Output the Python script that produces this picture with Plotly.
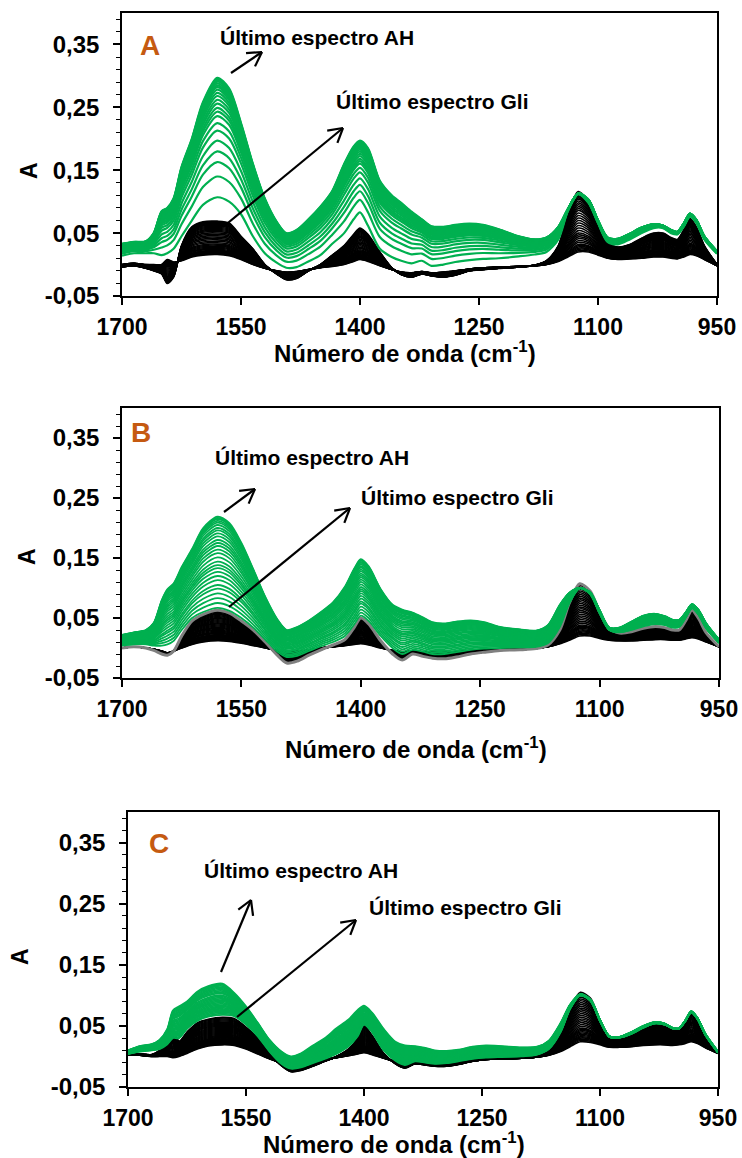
import math
import plotly.graph_objects as go

W, H = 742, 1158

# ---------------- data ----------------
wavenumber = [1700, 1685, 1670, 1660, 1650, 1643, 1635, 1625, 1612, 1598,
              1580, 1565, 1550, 1535, 1520, 1505, 1493, 1480, 1465, 1450,
              1435, 1420, 1408, 1400, 1390, 1375, 1360, 1348, 1335, 1322,
              1310, 1295, 1280, 1262, 1245, 1225, 1200, 1180, 1165, 1150,
              1138, 1125, 1112, 1100, 1088, 1075, 1060, 1045, 1030, 1018,
              1008, 1000, 992, 984, 976, 966, 950]

x_ticks = [1700, 1550, 1400, 1250, 1100, 950]
y_ticks = [-0.05, 0.05, 0.15, 0.25, 0.35]
y_tick_text = ["-0,05", "0,05", "0,15", "0,25", "0,35"]

# Panel A
a_black_first = [0.000, 0.002, 0.000, 0.000, 0.000, 0.008, 0.004, 0.006, 0.012, 0.015,
                 0.016, 0.014, 0.008, 0.000, -0.006, -0.010, -0.012, -0.011, -0.008, -0.005,
                 -0.003, 0.000, 0.005, 0.008, 0.005, -0.002, -0.008, -0.012, -0.013, -0.011,
                 -0.013, -0.012, -0.010, -0.007, -0.005, -0.004, -0.003, -0.002, 0.000, 0.005,
                 0.012, 0.020, 0.020, 0.015, 0.010, 0.008, 0.009, 0.010, 0.012, 0.012,
                 0.010, 0.009, 0.012, 0.016, 0.014, 0.008, -0.002]
a_black_last = [-0.004, -0.002, -0.006, -0.010, -0.015, -0.030, -0.020, 0.030, 0.060, 0.068,
                0.069, 0.066, 0.045, 0.025, 0.000, -0.015, -0.024, -0.022, -0.010, 0.000,
                0.015, 0.030, 0.048, 0.058, 0.048, 0.020, -0.005, -0.016, -0.020, -0.015,
                -0.018, -0.020, -0.017, -0.010, -0.008, -0.006, -0.004, -0.001, 0.006, 0.030,
                0.080, 0.116, 0.100, 0.065, 0.035, 0.028, 0.032, 0.042, 0.050, 0.050,
                0.043, 0.040, 0.055, 0.073, 0.060, 0.030, 0.000]
a_green_first = [0.014, 0.018, 0.018, 0.018, 0.015, 0.018, 0.025, 0.045, 0.070, 0.095,
                 0.107, 0.100, 0.080, 0.045, 0.018, 0.003, -0.005, -0.004, 0.005, 0.015,
                 0.033, 0.050, 0.072, 0.083, 0.062, 0.025, 0.012, 0.006, 0.002, 0.006,
                 -0.002, 0.000, 0.004, 0.007, 0.009, 0.010, 0.013, 0.016, 0.020, 0.040,
                 0.085, 0.112, 0.098, 0.066, 0.036, 0.032, 0.040, 0.050, 0.058, 0.058,
                 0.050, 0.048, 0.060, 0.076, 0.066, 0.040, 0.017]
a_green_last = [0.033, 0.036, 0.037, 0.050, 0.085, 0.090, 0.105, 0.155, 0.200, 0.258,
                0.297, 0.280, 0.225, 0.160, 0.105, 0.068, 0.050, 0.055, 0.072, 0.092,
                0.117, 0.160, 0.188, 0.197, 0.185, 0.133, 0.110, 0.098, 0.084, 0.072,
                0.061, 0.060, 0.063, 0.065, 0.063, 0.056, 0.045, 0.040, 0.043, 0.060,
                0.088, 0.113, 0.103, 0.070, 0.043, 0.041, 0.049, 0.059, 0.064, 0.062,
                0.055, 0.052, 0.065, 0.081, 0.071, 0.045, 0.021]
# height of every black spectrum at 1125 cm-1 / every green spectrum at 1580 cm-1
a_black_h1125 = [0.116, 0.114, 0.112, 0.110, 0.108, 0.106, 0.104, 0.101, 0.098, 0.095,
                 0.092, 0.089, 0.086, 0.082, 0.078, 0.074, 0.070, 0.066, 0.062, 0.058,
                 0.054, 0.050, 0.047, 0.044, 0.041, 0.038, 0.035, 0.032, 0.030, 0.028,
                 0.026, 0.024, 0.022, 0.020]
a_green_h1580 = [0.297, 0.295, 0.293, 0.291, 0.288, 0.285, 0.282, 0.278, 0.273, 0.268,
                 0.262, 0.256, 0.249, 0.243, 0.236, 0.225, 0.213, 0.197, 0.180, 0.163,
                 0.140, 0.107]

# Panel B
b_black_first = [0.000, 0.002, 0.000, -0.002, -0.005, -0.008, -0.005, 0.000, 0.006, 0.010,
                 0.012, 0.011, 0.008, 0.004, 0.000, -0.004, -0.006, -0.005, -0.003, 0.000,
                 0.002, 0.004, 0.006, 0.007, 0.005, 0.000, -0.004, -0.006, -0.005, -0.006,
                 -0.007, -0.007, -0.006, -0.004, -0.003, -0.002, -0.001, 0.000, 0.002, 0.007,
                 0.013, 0.020, 0.020, 0.016, 0.013, 0.012, 0.012, 0.013, 0.014, 0.014,
                 0.013, 0.013, 0.015, 0.017, 0.015, 0.010, 0.002]
b_black_last = [0.000, 0.002, 0.000, -0.004, -0.010, -0.012, -0.005, 0.020, 0.045, 0.056,
                0.063, 0.058, 0.045, 0.030, 0.010, -0.012, -0.025, -0.022, -0.012, -0.003,
                0.005, 0.014, 0.035, 0.050, 0.040, 0.012, -0.010, -0.020, -0.010, -0.014,
                -0.017, -0.018, -0.015, -0.010, -0.007, -0.004, -0.003, -0.001, 0.005, 0.030,
                0.075, 0.107, 0.095, 0.060, 0.033, 0.025, 0.027, 0.033, 0.036, 0.034,
                0.030, 0.030, 0.045, 0.063, 0.050, 0.025, 0.002]
b_green_first = [0.004, 0.006, 0.006, 0.004, 0.004, 0.006, 0.012, 0.030, 0.050, 0.060,
                 0.067, 0.062, 0.050, 0.034, 0.014, -0.006, -0.015, -0.013, -0.005, 0.003,
                 0.010, 0.020, 0.040, 0.054, 0.045, 0.020, 0.000, -0.010, -0.003, -0.006,
                 -0.010, -0.010, -0.007, -0.003, -0.001, 0.000, 0.001, 0.002, 0.008, 0.035,
                 0.075, 0.100, 0.090, 0.058, 0.030, 0.026, 0.030, 0.036, 0.040, 0.038,
                 0.034, 0.035, 0.050, 0.066, 0.056, 0.032, 0.008]
b_green_last = [0.022, 0.026, 0.030, 0.042, 0.080, 0.098, 0.108, 0.135, 0.165, 0.200,
                0.219, 0.208, 0.175, 0.131, 0.085, 0.048, 0.030, 0.035, 0.046, 0.060,
                0.076, 0.102, 0.133, 0.148, 0.136, 0.098, 0.072, 0.064, 0.059, 0.051,
                0.043, 0.041, 0.044, 0.046, 0.043, 0.035, 0.031, 0.029, 0.038, 0.072,
                0.092, 0.100, 0.093, 0.063, 0.034, 0.034, 0.044, 0.054, 0.057, 0.053,
                0.047, 0.047, 0.059, 0.073, 0.064, 0.041, 0.014]
b_black_h1125 = [0.104, 0.101, 0.098, 0.095, 0.092, 0.089, 0.086, 0.083, 0.080, 0.077,
                 0.074, 0.071, 0.068, 0.065, 0.062, 0.059, 0.056, 0.053, 0.050, 0.047,
                 0.044, 0.041, 0.038, 0.036, 0.034, 0.032, 0.030, 0.028, 0.026, 0.024,
                 0.022, 0.020]
b_green_h1580 = [0.219, 0.217, 0.215, 0.212, 0.209, 0.205, 0.200, 0.196, 0.191, 0.186,
                 0.180, 0.175, 0.170, 0.164, 0.158, 0.151, 0.144, 0.138, 0.133, 0.127,
                 0.120, 0.113, 0.105, 0.099, 0.091, 0.083, 0.075, 0.067]

# Panel C
c_black_first = [0.002, 0.002, 0.000, 0.000, 0.000, -0.002, 0.000, 0.005, 0.012, 0.017,
                 0.019, 0.018, 0.012, 0.004, -0.004, -0.010, -0.013, -0.011, -0.008, -0.005,
                 -0.002, 0.001, 0.004, 0.006, 0.003, -0.003, -0.008, -0.012, -0.010, -0.010,
                 -0.012, -0.012, -0.010, -0.006, -0.004, -0.003, -0.002, -0.001, 0.002, 0.008,
                 0.016, 0.024, 0.023, 0.019, 0.015, 0.015, 0.016, 0.018, 0.019, 0.019,
                 0.018, 0.019, 0.021, 0.024, 0.021, 0.014, 0.005]
c_black_last = [0.002, 0.004, 0.003, 0.010, 0.030, 0.040, 0.025, 0.040, 0.055, 0.061,
                0.064, 0.062, 0.048, 0.030, 0.005, -0.015, -0.025, -0.023, -0.016, -0.008,
                0.000, 0.012, 0.030, 0.050, 0.035, 0.005, -0.012, -0.019, -0.012, -0.014,
                -0.016, -0.016, -0.013, -0.008, -0.005, -0.004, -0.003, 0.000, 0.010, 0.040,
                0.080, 0.105, 0.095, 0.060, 0.033, 0.030, 0.035, 0.045, 0.053, 0.052,
                0.046, 0.045, 0.058, 0.074, 0.062, 0.035, 0.008]
c_green_first = [0.004, 0.008, 0.010, 0.012, 0.020, 0.030, 0.030, 0.045, 0.058, 0.065,
                 0.068, 0.066, 0.052, 0.033, 0.008, -0.012, -0.020, -0.018, -0.011, -0.004,
                 0.004, 0.016, 0.033, 0.052, 0.040, 0.010, -0.007, -0.014, -0.008, -0.010,
                 -0.012, -0.011, -0.008, -0.004, -0.002, -0.001, 0.000, 0.003, 0.012, 0.040,
                 0.078, 0.100, 0.091, 0.058, 0.033, 0.031, 0.037, 0.047, 0.054, 0.052,
                 0.046, 0.045, 0.057, 0.072, 0.061, 0.035, 0.006]
c_green_last = [0.010, 0.017, 0.020, 0.027, 0.045, 0.075, 0.082, 0.090, 0.106, 0.115,
                0.119, 0.104, 0.082, 0.055, 0.027, 0.008, 0.000, 0.005, 0.018, 0.030,
                0.046, 0.060, 0.076, 0.083, 0.072, 0.045, 0.024, 0.018, 0.017, 0.014,
                0.010, 0.009, 0.011, 0.016, 0.018, 0.017, 0.015, 0.016, 0.026, 0.055,
                0.085, 0.102, 0.093, 0.060, 0.032, 0.032, 0.040, 0.050, 0.056, 0.054,
                0.047, 0.046, 0.058, 0.074, 0.063, 0.037, 0.008]
c_black_h1125 = [0.105, 0.103, 0.100, 0.097, 0.094, 0.091, 0.088, 0.085, 0.082, 0.079,
                 0.076, 0.073, 0.070, 0.067, 0.064, 0.061, 0.058, 0.055, 0.052, 0.049,
                 0.046, 0.044, 0.042, 0.040, 0.038, 0.036, 0.034, 0.032, 0.030, 0.028,
                 0.026, 0.024]
c_green_h1580 = [0.119, 0.117, 0.115, 0.113, 0.111, 0.109, 0.107, 0.105, 0.103, 0.100,
                 0.098, 0.096, 0.094, 0.092, 0.090, 0.088, 0.086, 0.084, 0.082, 0.080,
                 0.078, 0.076, 0.074, 0.072, 0.070, 0.068]

panel_letters = ["A", "B", "C"]
label_ah = "Último espectro AH"
label_gli = "Último espectro Gli"

# ---------------- styling / layout ----------------
GREEN = "#00B050"
ORANGE = "#C55A11"
FONT = "Liberation Sans, Arial, sans-serif"

# plot areas in pixels: (left, right, top, bottom)
areas = [(122, 717, 13, 296), (122, 719, 408, 678), (128, 718, 812, 1087)]
green_widths = [2.2, 1.8, 1.8]

i1125 = wavenumber.index(1125)
i1580 = wavenumber.index(1580)


def spectra(first, last, heights, idx):
    out = []
    for h in heights:
        f = (h - first[idx]) / (last[idx] - first[idx])
        out.append([lo + f * (hi - lo) for lo, hi in zip(first, last)])
    return out


panels = [
    (a_black_first, a_black_last, a_green_first, a_green_last, a_black_h1125, a_green_h1580, False),
    (b_black_first, b_black_last, b_green_first, b_green_last, b_black_h1125, b_green_h1580, True),
    (c_black_first, c_black_last, c_green_first, c_green_last, c_black_h1125, c_green_h1580, False),
]

fig = go.Figure()
for p, (bf, bl, gf, gl, bh, gh, gray_last) in enumerate(panels):
    xa = "x" if p == 0 else f"x{p+1}"
    ya = "y" if p == 0 else f"y{p+1}"
    blacks = spectra(bf, bl, sorted(bh), i1125)
    for ys in blacks:
        fig.add_trace(go.Scatter(x=wavenumber, y=ys, mode="lines", xaxis=xa, yaxis=ya,
                                 line=dict(color="black", width=1.6, shape="spline", smoothing=0.8),
                                 hoverinfo="skip", showlegend=False))
    if gray_last:
        fig.add_trace(go.Scatter(x=wavenumber, y=bl, mode="lines", xaxis=xa, yaxis=ya,
                                 line=dict(color="#808080", width=3, shape="spline", smoothing=0.8),
                                 hoverinfo="skip", showlegend=False))
    greens = spectra(gf, gl, sorted(gh), i1580)
    for ys in greens:
        fig.add_trace(go.Scatter(x=wavenumber, y=ys, mode="lines", xaxis=xa, yaxis=ya,
                                 line=dict(color=GREEN, width=green_widths[p], shape="spline",
                                           smoothing=0.8),
                                 hoverinfo="skip", showlegend=False))

layout = dict(width=W, height=H, margin=dict(l=0, r=0, t=0, b=0, autoexpand=False),
              paper_bgcolor="white", plot_bgcolor="white", showlegend=False,
              font=dict(family=FONT, color="black"))

for p, (l, r, t, b) in enumerate(areas):
    xk = "xaxis" if p == 0 else f"xaxis{p+1}"
    yk = "yaxis" if p == 0 else f"yaxis{p+1}"
    ya_name = "y" if p == 0 else f"y{p+1}"
    xa_name = "x" if p == 0 else f"x{p+1}"
    layout[xk] = dict(domain=[l / W, r / W], anchor=ya_name, range=[1700, 950],
                      tickmode="array", tickvals=x_ticks, ticks="outside", ticklen=7,
                      tickwidth=1.5, tickcolor="black", showline=True, linecolor="black",
                      linewidth=1.5, mirror=True, showgrid=False, zeroline=False,
                      automargin=False,
                      tickfont=dict(family=FONT, size=23, color="black", weight="bold"),
                      ticklabelstandoff=3)
    layout[yk] = dict(domain=[1 - b / H, 1 - t / H], anchor=xa_name, range=[-0.05, 0.40],
                      tickmode="array", tickvals=y_ticks, ticktext=y_tick_text,
                      ticks="outside", ticklen=7, tickwidth=1.5, tickcolor="black",
                      minor=dict(ticks="outside", ticklen=4, tickwidth=1, tickcolor="black",
                                 tickmode="linear", tick0=-0.05, dtick=0.02),
                      showline=True, linecolor="black", linewidth=1.5, mirror=True,
                      showgrid=False, zeroline=False, automargin=False,
                      tickfont=dict(family=FONT, size=24, color="black", weight="bold"),
                      ticklabelstandoff=9)

fig.update_layout(**layout)


def P(px, py):
    return px / W, 1 - py / H


ann = []
shapes = []


def text(px, py, s, size, color="black", angle=0):
    x, y = P(px, py)
    ann.append(dict(x=x, y=y, xref="paper", yref="paper", text=f"<b>{s}</b>", showarrow=False,
                    xanchor="center", yanchor="middle", textangle=angle,
                    font=dict(family=FONT, size=size, color=color)))


def arrow(x0, y0, x1, y1, L=16, ang=30):
    line = dict(color="black", width=2.2)
    a0, b0 = P(x0, y0)
    a1, b1 = P(x1, y1)
    shapes.append(dict(type="line", xref="paper", yref="paper", x0=a0, y0=b0, x1=a1, y1=b1, line=line))
    th = math.atan2(y0 - y1, x0 - x1)
    for s in (-1, 1):
        t2 = th + s * math.radians(ang)
        hx, hy = x1 + L * math.cos(t2), y1 + L * math.sin(t2)
        c0, d0 = P(hx, hy)
        shapes.append(dict(type="line", xref="paper", yref="paper", x0=a1, y0=b1, x1=c0, y1=d0, line=line))


# panel letters, labels, arrows, axis titles
letter_pos = [(150, 45), (141, 433), (159, 843)]
ah_pos = [(317, 38), (312, 457), (301, 870)]
gli_pos = [(432, 102), (457, 497), (466, 907)]
ah_arrows = [(231, 73, 262, 52), (224, 512, 255, 489), (221, 972, 251, 900)]
gli_arrows = [(223, 227, 343, 128), (229, 607, 350, 508), (237, 1017, 356, 920)]
xtitle_pos = [(405, 352), (416, 748), (394, 1143)]
ytitle_pos = [(29, 171), (27, 557), (20, 957)]

for p in range(3):
    text(*letter_pos[p], panel_letters[p], 28, ORANGE)
    text(*ah_pos[p], label_ah, 21)
    text(*gli_pos[p], label_gli, 21)
    arrow(*ah_arrows[p])
    arrow(*gli_arrows[p])
    text(*xtitle_pos[p], "Número de onda (cm<sup>-1</sup>)", 24)
    text(*ytitle_pos[p], "A", 23, angle=-90)

fig.update_layout(annotations=ann, shapes=shapes)
fig.write_html("out.html", config={"displayModeBar": False},
               post_script="document.body.style.margin='0px';document.body.style.overflow='hidden';")
